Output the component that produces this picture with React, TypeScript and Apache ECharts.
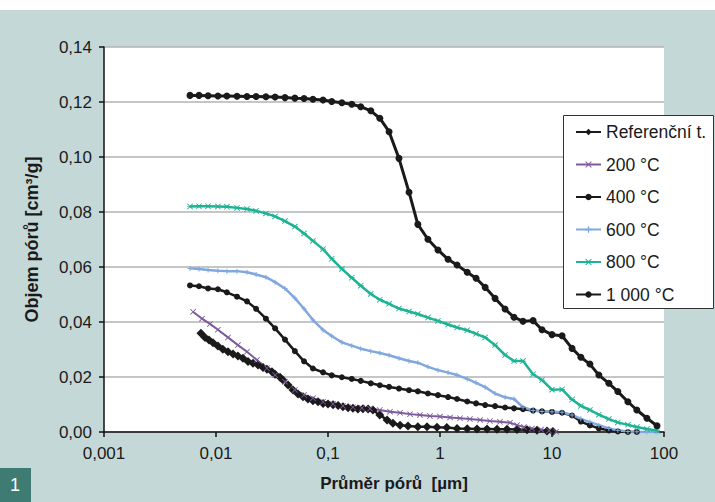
import React, { useEffect, useRef } from "react";
import * as echarts from "echarts";

// ---------- data ----------
const seriesNames = ["Referenční t.", "200 °C", "400 °C", "600 °C", "800 °C", "1 000 °C"];

const xTickLabels = ["0,001", "0,01", "0,1", "1", "10", "100"];
const yTickLabels = ["0,00", "0,02", "0,04", "0,06", "0,08", "0,10", "0,12", "0,14"];

// shared pore-diameter grid (µm) for 400–1000 °C
const gridDiam = [
  0.00586, 0.00705, 0.0085, 0.0104, 0.0125, 0.0154, 0.0189, 0.0228, 0.0279, 0.0337,
  0.0413, 0.0506, 0.0611, 0.0734, 0.0903, 0.108, 0.133, 0.163, 0.196, 0.241,
  0.29, 0.351, 0.43, 0.529, 0.634, 0.78, 0.959, 1.18, 1.42, 1.75,
  2.1, 2.53, 3.1, 3.81, 4.58, 5.51, 6.78, 8.14, 10.0, 12.3,
  15.1, 18.1, 21.8, 26.2, 32.2, 38.7, 47.6, 57.2, 70.4, 86.6,
];

const vol1000 = [
  0.1224, 0.1224, 0.1223, 0.1222, 0.1222, 0.1221, 0.122, 0.122, 0.1219, 0.1218,
  0.1216, 0.1214, 0.1213, 0.121, 0.1207, 0.1202, 0.1197, 0.1192, 0.1183, 0.1168,
  0.1141, 0.1092, 0.0995, 0.0872, 0.0755, 0.0701, 0.0662, 0.0628, 0.0607, 0.0581,
  0.0559, 0.0526, 0.0486, 0.0447, 0.0417, 0.0403, 0.0405, 0.0372, 0.0354, 0.035,
  0.0304, 0.0272, 0.0247, 0.0207, 0.0177, 0.0147, 0.011, 0.008, 0.005, 0.0023,
];

const vol800 = [
  0.082, 0.0821, 0.0821, 0.082, 0.0819, 0.0815, 0.0811, 0.0804, 0.0795, 0.0784,
  0.0767, 0.0747, 0.0722, 0.0695, 0.0665, 0.063, 0.0593, 0.0561, 0.0532, 0.0502,
  0.0481, 0.0466, 0.0449, 0.0438, 0.0429, 0.0416, 0.0404, 0.0391, 0.038, 0.037,
  0.0357, 0.0344, 0.0316, 0.028, 0.0258, 0.0258, 0.021, 0.0189, 0.0154, 0.0155,
  0.0118, 0.0095, 0.008, 0.0063, 0.0047, 0.0035, 0.0026, 0.0018, 0.0011, 0.0005,
];

const vol600 = [
  0.0595, 0.0593, 0.0589, 0.0586, 0.0585, 0.0585, 0.0581, 0.0573, 0.0563, 0.0545,
  0.0522, 0.0487, 0.0448, 0.0407, 0.0371, 0.0349, 0.0326, 0.0314, 0.0303, 0.0294,
  0.0287, 0.0279, 0.0268, 0.0258, 0.0252, 0.0237, 0.0225, 0.0216, 0.0207, 0.0193,
  0.0179, 0.0163, 0.014, 0.0126, 0.012, 0.009, 0.0078, 0.0075, 0.0074, 0.0072,
  0.0062, 0.0048, 0.0036, 0.0025, 0.0013, 0.0006, 0.0002, 0.0001, 0.0, 0.0,
];

const vol400 = [
  0.0533, 0.053, 0.0522, 0.0519, 0.0508, 0.0492, 0.0475, 0.0448, 0.0412, 0.0377,
  0.0336, 0.0294, 0.0257, 0.0231, 0.0217, 0.0206, 0.0199, 0.0193, 0.0186, 0.0177,
  0.017, 0.0164, 0.0158, 0.0152, 0.0148, 0.014, 0.0134, 0.0127, 0.012, 0.0111,
  0.0104, 0.0098, 0.0094, 0.0089, 0.0086, 0.0083, 0.0078, 0.0075, 0.0073, 0.007,
  0.006, 0.0038, 0.0024, 0.0013, 0.0006, 0.0002, 0.0, 0.0,
];

const diam200 = [
  0.00624, 0.0075, 0.00883, 0.0104, 0.0128, 0.0157, 0.0189, 0.0232, 0.0285, 0.0337,
  0.0413, 0.0506, 0.0611, 0.0734, 0.0903, 0.111, 0.136, 0.167, 0.201, 0.237,
  0.29, 0.358, 0.44, 0.54, 0.662, 0.814, 1.0, 1.23, 1.51, 1.85,
  2.28, 2.79, 3.43, 4.22, 4.87, 5.62, 6.62, 7.98, 9.4, 10.9,
];
const vol200 = [
  0.0437, 0.0412, 0.0393, 0.0372, 0.0344, 0.0316, 0.0292, 0.0262, 0.0232, 0.0207,
  0.0183, 0.0153, 0.0135, 0.0123, 0.011, 0.0102, 0.0095, 0.009, 0.0087, 0.0085,
  0.008, 0.0074, 0.007, 0.0065, 0.0062, 0.0058, 0.0056, 0.0053, 0.005, 0.0047,
  0.0044, 0.004, 0.0037, 0.0034, 0.0025, 0.0018, 0.0013, 0.0009, 0.0005, 0.0001,
];

const diamRef = [
  0.00734, 0.00798, 0.00866, 0.0094, 0.0104, 0.0115, 0.0128, 0.0142, 0.0157, 0.0174,
  0.0193, 0.0214, 0.0237, 0.0263, 0.0285, 0.0316, 0.0337, 0.0373, 0.0396, 0.044,
  0.0487, 0.054, 0.0598, 0.0662, 0.0734, 0.0815, 0.0903, 0.1, 0.111, 0.123,
  0.136, 0.151, 0.167, 0.185, 0.205, 0.228, 0.252, 0.29, 0.337, 0.38,
  0.44, 0.518, 0.634, 0.766, 0.94, 1.15, 1.42, 1.75, 2.14, 2.63,
  3.23, 3.96, 4.87, 5.98, 7.35, 9.02, 10.2,
];
const volRef = [
  0.0359, 0.0344, 0.0335, 0.0325, 0.0313, 0.0301, 0.0292, 0.0284, 0.0276, 0.0268,
  0.0256, 0.025, 0.0244, 0.0235, 0.0228, 0.0219, 0.021, 0.0199, 0.0189, 0.0171,
  0.0153, 0.0138, 0.0128, 0.012, 0.0114, 0.011, 0.0104, 0.0102, 0.0099, 0.0096,
  0.0092, 0.0088, 0.0086, 0.0084, 0.0085, 0.0084, 0.008, 0.0062, 0.0044, 0.0032,
  0.0025, 0.0022, 0.0019, 0.0019, 0.0017, 0.0016, 0.0013, 0.0012, 0.0011, 0.0011,
  0.001, 0.001, 0.0009, 0.0008, 0.0006, 0.0004, 0.0002,
];

// ---------- helpers ----------
const pair = (xs: number[], ys: number[]) => ys.map((y, i) => [xs[i], y]);

const X_SYMBOL = "path://M1,0 L5,4 L9,0 L10,1 L6,5 L10,9 L9,10 L5,6 L1,10 L0,9 L4,5 L0,1 Z";
const PLUS_SYMBOL = "path://M4,0 H6 V4 H10 V6 H6 V10 H4 V6 H0 V4 H4 Z";
const STAR_SYMBOL =
  "path://M1,0 L5,3.6 L9,0 L10,1 L6.4,4.4 H10 V5.6 H6.4 L10,9 L9,10 L5,6.4 L1,10 L0,9 L3.6,5.6 H0 V4.4 H3.6 L0,1 Z";

const FONT = "Liberation Sans, Arial, Helvetica, sans-serif";
const TEXT = "#1a1a1a";

export default function App() {
  const ref = useRef<HTMLDivElement>(null);

  useEffect(() => {
    if (!ref.current) return;
    const chart = echarts.init(ref.current, null, { renderer: "svg" });

    const mk = (
      name: string,
      data: number[][],
      color: string,
      symbol: string,
      symbolSize: number,
      width: number
    ) => ({
      name,
      type: "line",
      data,
      symbol,
      symbolSize,
      showSymbol: true,
      smooth: false,
      lineStyle: { color, width },
      itemStyle: { color, borderWidth: 0 },
      emphasis: { disabled: true },
    });

    chart.setOption({
      animation: false,
      backgroundColor: "#c5d8d8",
      textStyle: { fontFamily: FONT },
      grid: {
        left: 104,
        right: 51,
        top: 37,
        bottom: 70,
        show: true,
        backgroundColor: "#ffffff",
        borderWidth: 0,
      },
      legend: {
        orient: "vertical",
        left: 570,
        top: 108,
        itemWidth: 25,
        itemHeight: 8,
        itemGap: 14.5,
        data: seriesNames,
        textStyle: { fontSize: 17.5, color: TEXT, fontFamily: FONT },
        z: 12,
        selectedMode: false,
      },
      xAxis: {
        type: "log",
        logBase: 10,
        min: 0.001,
        max: 100,
        name: "Průměr pórů  [µm]",
        nameLocation: "middle",
        nameGap: 43,
        nameTextStyle: { fontSize: 17, fontWeight: "bold", color: TEXT, fontFamily: FONT, padding: [0, 0, 0, 20] },
        axisLine: { show: true, lineStyle: { color: "#111", width: 1.5 } },
        axisTick: { show: true, length: 5, lineStyle: { color: "#111", width: 1.5 } },
        minorTick: { show: false },
        splitLine: { show: false },
        axisLabel: {
          fontSize: 17,
          color: TEXT,
          margin: 13,
          formatter: (v: number) => xTickLabels[Math.round(Math.log10(v)) + 3] ?? "",
        },
      },
      yAxis: {
        type: "value",
        min: 0,
        max: 0.14,
        interval: 0.02,
        name: "Objem pórů [cm³/g]",
        nameLocation: "middle",
        nameGap: 63,
        nameTextStyle: { fontSize: 18, fontWeight: "bold", color: TEXT, fontFamily: FONT },
        axisLine: { show: true, lineStyle: { color: "#111", width: 1.5 } },
        axisTick: { show: true, length: 5, lineStyle: { color: "#111", width: 1.5 } },
        splitLine: { show: true, lineStyle: { color: "#b3b3b3", width: 1.5 } },
        axisLabel: {
          fontSize: 17,
          color: TEXT,
          margin: 12,
          formatter: (v: number) => yTickLabels[Math.round(v / 0.02)] ?? "",
        },
      },
      graphic: [
        {
          type: "rect",
          left: 563,
          top: 105,
          shape: { width: 150, height: 193 },
          style: { fill: "#ffffff", stroke: "#333333", lineWidth: 1 },
          z: 10,
        },
        {
          type: "rect",
          left: 0,
          top: 458,
          shape: { width: 31, height: 34 },
          style: { fill: "#3d7b73" },
          z: 10,
        },
        {
          type: "text",
          left: 10,
          top: 466,
          style: { text: "1", fill: "#ffffff", font: "18px Liberation Sans, Arial, sans-serif" },
          z: 11,
        },
      ],
      series: [
        mk(seriesNames[0], pair(diamRef, volRef), "#1a1a1a", "diamond", 9, 2.5),
        mk(seriesNames[1], pair(diam200, vol200), "#7d5b9c", X_SYMBOL, 6, 2),
        mk(seriesNames[2], pair(gridDiam, vol400), "#1a1a1a", "circle", 6, 2.5),
        mk(seriesNames[3], pair(gridDiam, vol600), "#80a8de", PLUS_SYMBOL, 5, 2.5),
        mk(seriesNames[4], pair(gridDiam, vol800), "#1db394", STAR_SYMBOL, 6, 2.5),
        mk(seriesNames[5], pair(gridDiam, vol1000), "#1a1a1a", "circle", 7, 3),
      ],
    });

    return () => chart.dispose();
  }, []);

  return (
    <div
      ref={ref}
      style={{ position: "fixed", left: 0, top: 10, width: 715, height: 492 }}
    />
  );
}
